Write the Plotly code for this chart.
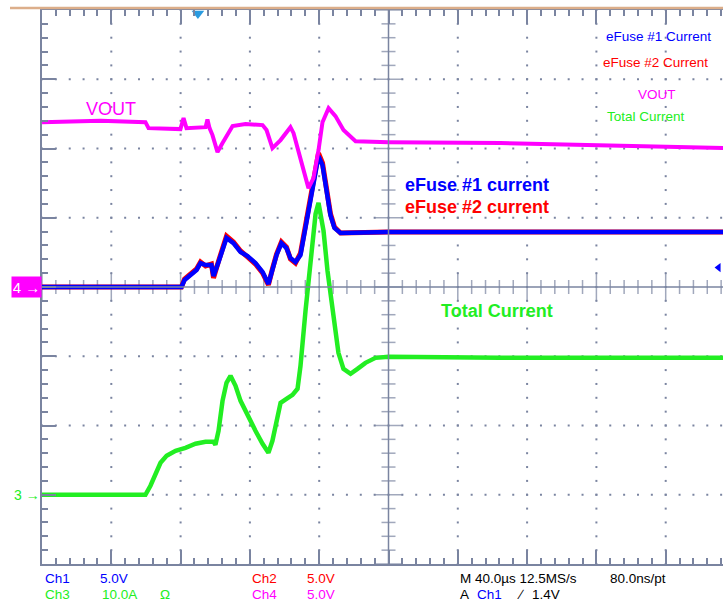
import plotly.graph_objects as go

# ---------------- data (time in µs from screen centre) ----------------
# Ch4 : VOUT (V), 5 V/div, ground at centre
vout_t = [-200, -166.2, -140.3, -138.5, -120.1, -118.3, -116.6, -105.6, -104.5, -103.3,
          -101.6, -98.7, -95.8, -90.0, -82.5, -72.7, -70.4, -67.0, -62.3, -56.6,
          -54.8, -50.8, -46.2, -43.3, -40.4, -38.1, -34.6, -30.6, -26.0, -19.0,
          0, 64.6, 122.4, 193.4]
vout_v = [11.9, 12.0, 11.9, 11.47, 11.4, 12.2, 11.47, 11.54, 12.1, 11.47,
          10.97, 9.74, 10.39, 11.62, 11.76, 11.69, 11.33, 10.03, 10.61, 11.54,
          11.11, 9.16, 7.14, 7.86, 9.88, 11.9, 12.91, 12.34, 11.33, 10.53,
          10.46, 10.39, 10.25, 10.03]

# Ch1 : eFuse #1 current (V), 5 V/div, ground at centre
ef1_t = [-200, -119.5, -117.7, -114.3, -110.8, -108.5, -105.6, -102.2, -101.0, -98.1,
         -93.5, -89.5, -85.4, -81.4, -76.8, -72.7, -69.3, -67.0, -64.6, -61.8,
         -58.9, -56.6, -53.7, -50.8, -48.5, -45.6, -42.7, -40.4, -38.1, -35.8,
         -33.5, -31.2, -27.7, 0, 64.6, 193.4]
ef1_v = [0, 0, 0.51, 0.87, 1.23, 1.73, 1.59, 1.59, 0.79, 1.80,
         3.54, 3.17, 2.53, 2.24, 1.73, 1.08, 0.22, 1.23, 2.31, 3.17,
         2.81, 2.09, 1.80, 2.31, 3.97, 5.92, 8.08, 9.45, 8.80, 7.00,
         5.19, 4.26, 3.90, 3.97, 3.97, 3.97]

# Ch2 : eFuse #2 current (V), 5 V/div, ground at centre
ef2_t = [-200, -119.5, -117.7, -114.3, -110.8, -108.5, -105.6, -102.2, -101.0, -98.1,
         -93.5, -89.5, -85.4, -81.4, -76.8, -72.7, -69.3, -67.0, -64.6, -61.8,
         -58.9, -56.6, -53.7, -50.8, -48.5, -45.6, -42.7, -40.4, -38.1, -35.8,
         -33.5, -31.2, -27.7, 0, 64.6, 193.4]
ef2_v = [0, 0, 0.58, 0.95, 1.30, 1.80, 1.52, 1.66, 0.65, 1.87,
         3.68, 3.25, 2.60, 2.17, 1.66, 1.01, 0.15, 1.30, 2.38, 3.25,
         2.88, 2.02, 1.73, 2.45, 4.10, 6.10, 8.30, 9.67, 8.95, 7.10,
         5.30, 4.33, 3.90, 3.97, 3.97, 3.97]

# Ch3 : total current (A), 10 A/div, ground one division above bottom
itot_t = [-200, -140.3, -137.4, -134.5, -131.6, -128.1, -122.9, -117.2, -111.4, -105.6,
          -101.0, -99.9, -98.1, -95.8, -93.5, -91.2, -88.3, -85.4, -81.4, -76.8,
          -72.7, -69.3, -67.0, -64.6, -62.3, -58.9, -55.4, -52.5, -50.8, -47.9,
          -45.0, -42.1, -40.4, -37.5, -35.2, -31.7, -28.9, -26.0, -21.9, -17.9,
          -13.3, -7.5, 0, 64.6, 193.4]
itot_a = [0, 0, 1.3, 3.17, 4.62, 5.63, 6.35, 6.78, 7.36, 7.65,
          7.65, 7.22, 9.24, 13.56, 16.16, 17.17, 15.73, 13.56, 11.40, 9.24,
          7.36, 6.06, 7.79, 10.68, 13.28, 13.85, 14.43, 15.30, 18.61, 26.55,
          33.77, 40.55, 42.14, 38.10, 32.32, 25.11, 20.49, 18.18, 17.46, 18.18,
          19.05, 19.77, 19.91, 19.77, 19.77]

# ---------------- styling ----------------
W, H = 723, 604
ML, MT, MB = 42, 10, 40
DIV_PX = 69.3
T_DIV = 40.0
X_MIN = -5 * T_DIV
X_MAX = X_MIN + (W - ML) / DIV_PX * T_DIV

BLUE, RED, MAG, GRN = "#0000ff", "#ff0000", "#ff00ff", "#22ee22"
GRID = "#7a84a0"
FONT = "Liberation Sans, Arial, sans-serif"

fig = go.Figure()

# dotted graticule
gx, gy = [], []
for k in (-4, -3, -2, -1, 1, 2, 3, 4):
    for j in range(-20, 21):
        gx.append(k * T_DIV)
        gy.append(j)
for k in (-3, -2, -1, 1, 2, 3):
    t = X_MIN
    while t <= X_MAX:
        gx.append(t)
        gy.append(k * 5)
        t += T_DIV / 5
fig.add_trace(go.Scatter(x=gx, y=gy, mode="markers", hoverinfo="skip",
                         marker=dict(symbol="square", size=2, color=GRID, line=dict(width=0))))

# centre cross-hair ticks
hx, hs = [], []
t = X_MIN
while t <= X_MAX:
    hx.append(t)
    hs.append(20 if abs(round(t / T_DIV) * T_DIV - t) < 1e-6 else 10)
    t += T_DIV / 5
fig.add_trace(go.Scatter(x=hx, y=[0] * len(hx), mode="markers", hoverinfo="skip",
                         marker=dict(symbol="line-ns", size=hs, line=dict(width=1.5, color=GRID))))
vy = list(range(-20, 21))
vs = [20 if v % 5 == 0 else 10 for v in vy]
fig.add_trace(go.Scatter(x=[0] * len(vy), y=vy, mode="markers", hoverinfo="skip",
                         marker=dict(symbol="line-ew", size=vs, line=dict(width=1.5, color=GRID))))

fig.add_shape(type="line", x0=X_MIN, x1=X_MAX, y0=0, y1=0, line=dict(color=GRID, width=1.5))
fig.add_shape(type="line", x0=0, x1=0, y0=-20, y1=20, line=dict(color=GRID, width=1.5))
fig.add_shape(type="line", xref="paper", yref="paper", x0=-32 / (W - ML), x1=1,
              y0=1 + 2 / (H - MT - MB), y1=1 + 2 / (H - MT - MB),
              line=dict(color="#dcae8a", width=2.5))

# waveforms
fig.add_trace(go.Scatter(x=itot_t, y=itot_a, yaxis="y3", mode="lines",
                         line=dict(color=GRN, width=4.5), name="Total Current"))
fig.add_trace(go.Scatter(x=vout_t, y=vout_v, yaxis="y2", mode="lines",
                         line=dict(color=MAG, width=4), name="VOUT"))
fig.add_trace(go.Scatter(x=ef2_t, y=ef2_v, mode="lines",
                         line=dict(color=RED, width=5), name="eFuse #2 Current"))
fig.add_trace(go.Scatter(x=ef1_t, y=ef1_v, mode="lines",
                         line=dict(color=BLUE, width=4.5), name="eFuse #1 Current"))

# trigger markers
fig.add_trace(go.Scatter(x=[-110], y=[19.75], mode="markers", cliponaxis=False, hoverinfo="skip",
                         marker=dict(symbol="triangle-down", size=11, color="#2a9be0")))
fig.add_trace(go.Scatter(x=[190.5], y=[1.4], mode="markers", cliponaxis=False, hoverinfo="skip",
                         marker=dict(symbol="triangle-left", size=8, color=BLUE)))

ann = []
def txt(x, y, s, color, size, bold=False, yref="y", xref="x", xanchor="left"):
    ann.append(dict(x=x, y=y, xref=xref, yref=yref, text=("<b>%s</b>" % s) if bold else s,
                    showarrow=False, xanchor=xanchor, yanchor="middle",
                    font=dict(family=FONT, size=size, color=color)))

txt(-176.0, 12.84, "VOUT", MAG, 18, yref="y2")
txt(8.1, 7.36, "eFuse #1 current", BLUE, 18, True)
txt(8.1, 5.77, "eFuse #2 current", RED, 18, True)
txt(28.9, 26.55, "Total Current", GRN, 18, True, yref="y3")

txt(124.1, 18.11, "eFuse #1 Current", BLUE, 13.5)
txt(122.9, 16.23, "eFuse #2 Current", RED, 13.5)
txt(142.6, 13.92, "VOUT", MAG, 13.5)
txt(124.7, 12.34, "Total Current", GRN, 13.5)

PW, PH = W - ML, H - MT - MB
def px(xp): return (xp - ML) / PW
def py(yp): return (H - MB - yp) / PH
r1, r2 = py(578), py(594)
for xp, yp, s, c in [(43, r1, "Ch1", BLUE), (98, r1, "5.0V", BLUE),
                     (43, r2, "Ch3", GRN), (100, r2, "10.0A", GRN), (158, r2, "Ω", GRN),
                     (250, r1, "Ch2", RED), (305, r1, "5.0V", RED),
                     (250, r2, "Ch4", MAG), (305, r2, "5.0V", MAG),
                     (458, r1, "M 40.0µs 12.5MS/s", "#000000"), (608, r1, "80.0ns/pt", "#000000"),
                     (458, r2, "A", "#000000"), (475, r2, "Ch1", BLUE),
                     (515, r2, "∕", "#000000"), (530, r2, "1.4V", "#000000")]:
    txt(px(xp), yp, s, c, 13.5, xref="paper", yref="paper")

ann.append(dict(x=0, y=0, xref="paper", yref="y2", text="4 →", showarrow=False,
                xanchor="right", yanchor="middle", bgcolor=MAG, width=27, height=18,
                font=dict(family=FONT, size=15, color="#ffffff")))
ann.append(dict(x=0, y=0, xref="paper", yref="y3", text="3 →", showarrow=False,
                xanchor="right", yanchor="middle",
                font=dict(family=FONT, size=14, color=GRN)))

fig.update_layout(
    width=W, height=H, autosize=False,
    margin=dict(l=ML, r=0, t=MT, b=MB, pad=0),
    paper_bgcolor="white", plot_bgcolor="white",
    showlegend=False,
    annotations=ann,
    xaxis=dict(range=[X_MIN, X_MAX], showgrid=False, zeroline=False, showticklabels=False,
               showline=True, linecolor=GRID, linewidth=2, mirror="ticks",
               ticks="inside", tick0=0, dtick=T_DIV, ticklen=14, tickwidth=1.5, tickcolor=GRID,
               minor=dict(ticks="inside", dtick=T_DIV / 5, ticklen=6, tickwidth=1.5,
                          tickcolor=GRID, showgrid=False)),
    yaxis=dict(range=[-20, 20], showgrid=False, zeroline=False, showticklabels=False,
               showline=True, linecolor=GRID, linewidth=2, mirror=False,
               ticks="inside", tick0=0, dtick=5, ticklen=14, tickwidth=1.5, tickcolor=GRID,
               minor=dict(ticks="inside", dtick=1, ticklen=6, tickwidth=1.5,
                          tickcolor=GRID, showgrid=False)),
    yaxis2=dict(range=[-20, 20], overlaying="y", visible=False),
    yaxis3=dict(range=[-10, 70], overlaying="y", visible=False),
)

fig.write_html("out.html", config={"displayModeBar": False},
               post_script="document.body.style.margin='0';document.body.style.overflow='hidden';")
